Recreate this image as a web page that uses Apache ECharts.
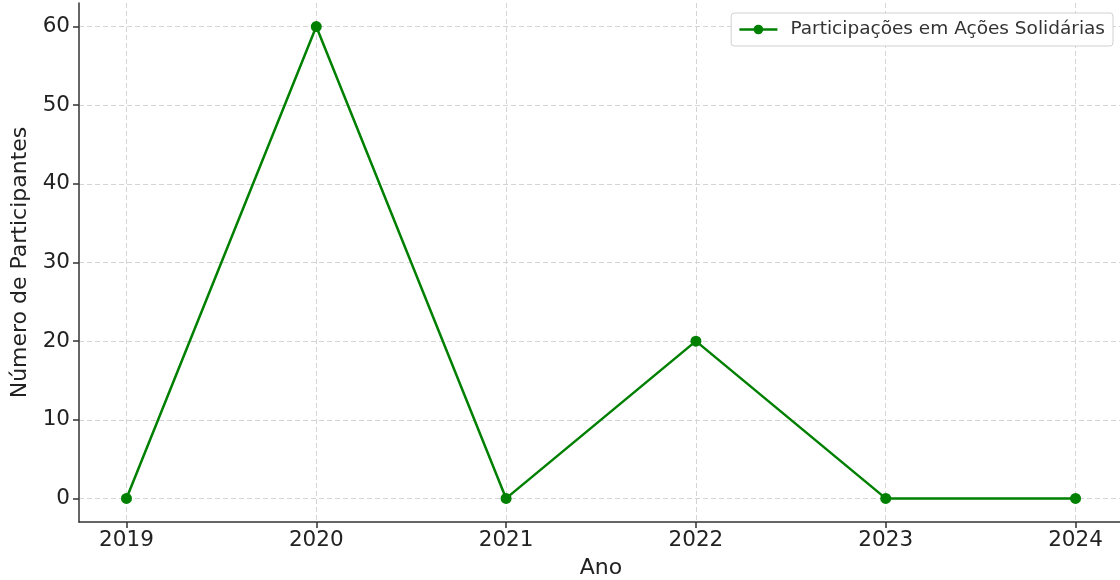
<!DOCTYPE html>
<html><head><meta charset="utf-8">
<script src="https://cdn.jsdelivr.net/npm/echarts@6/dist/echarts.min.js"></script>
<style>html,body{margin:0;padding:0;background:#fff}#c{width:1120px;height:580px}</style>
</head><body><div id="c"></div>
<script>
const years = [2019, 2020, 2021, 2022, 2023, 2024];
const participantes = [0, 60, 0, 20, 0, 0];
const yTicks = [0, 10, 20, 30, 40, 50, 60];
const seriesName = 'Participações em Ações Solidárias';

const chart = echarts.init(document.getElementById('c'));
const font = 'DejaVu Sans';
chart.setOption({
  animation: false,
  textStyle: { fontFamily: font },
  grid: { left: 79, top: 3, width: 1044, height: 519, containLabel: false, outerBoundsMode: 'none' },
  legend: {
    right: 7, top: 13,
    padding: [7, 8, 7, 7],
    borderColor: '#d0d0d0', borderWidth: 1, borderRadius: 3,
    backgroundColor: 'rgba(255,255,255,0.9)',
    itemWidth: 38, itemHeight: 12,
    lineStyle: { width: 2.5 },
    textStyle: { fontSize: 18.5, color: '#333', fontFamily: font, padding: [0, 0, 0, 8] },
    data: [seriesName]
  },
  xAxis: {
    type: 'value', min: 2018.75, max: 2024.25,
    name: 'Ano', nameLocation: 'middle', nameGap: 35,
    nameTextStyle: { fontSize: 22, color: '#222', fontFamily: font },
    axisLine: { show: true, onZero: false, lineStyle: { color: '#333', width: 1.5 } },
    axisTick: { show: true, length: 6, customValues: years, lineStyle: { color: '#333', width: 1.5 } },
    axisLabel: { customValues: years, fontSize: 21.5, color: '#222', margin: 7, fontFamily: font, formatter: v => String(v) },
    splitLine: { show: true, lineStyle: { color: '#d4d4d4', type: [5, 3], width: 1 } }
  },
  yAxis: {
    type: 'value', min: -3, max: 63,
    name: 'Número de Participantes', nameLocation: 'middle', nameGap: 46, nameRotate: 90,
    nameTextStyle: { fontSize: 22, color: '#222', fontFamily: font },
    axisLine: { show: true, lineStyle: { color: '#333', width: 1.5 } },
    axisTick: { show: true, length: 6, customValues: yTicks, lineStyle: { color: '#333', width: 1.5 } },
    axisLabel: { customValues: yTicks, fontSize: 21.5, color: '#222', margin: 9, fontFamily: font },
    splitLine: { show: true, lineStyle: { color: '#d4d4d4', type: [5, 3], width: 1 } }
  },
  series: [{
    name: seriesName, type: 'line',
    data: years.map((y, i) => [y, participantes[i]]),
    symbol: 'circle', symbolSize: 11,
    lineStyle: { color: '#008000', width: 2.5 },
    itemStyle: { color: '#008000' }
  }]
});
</script></body></html>
